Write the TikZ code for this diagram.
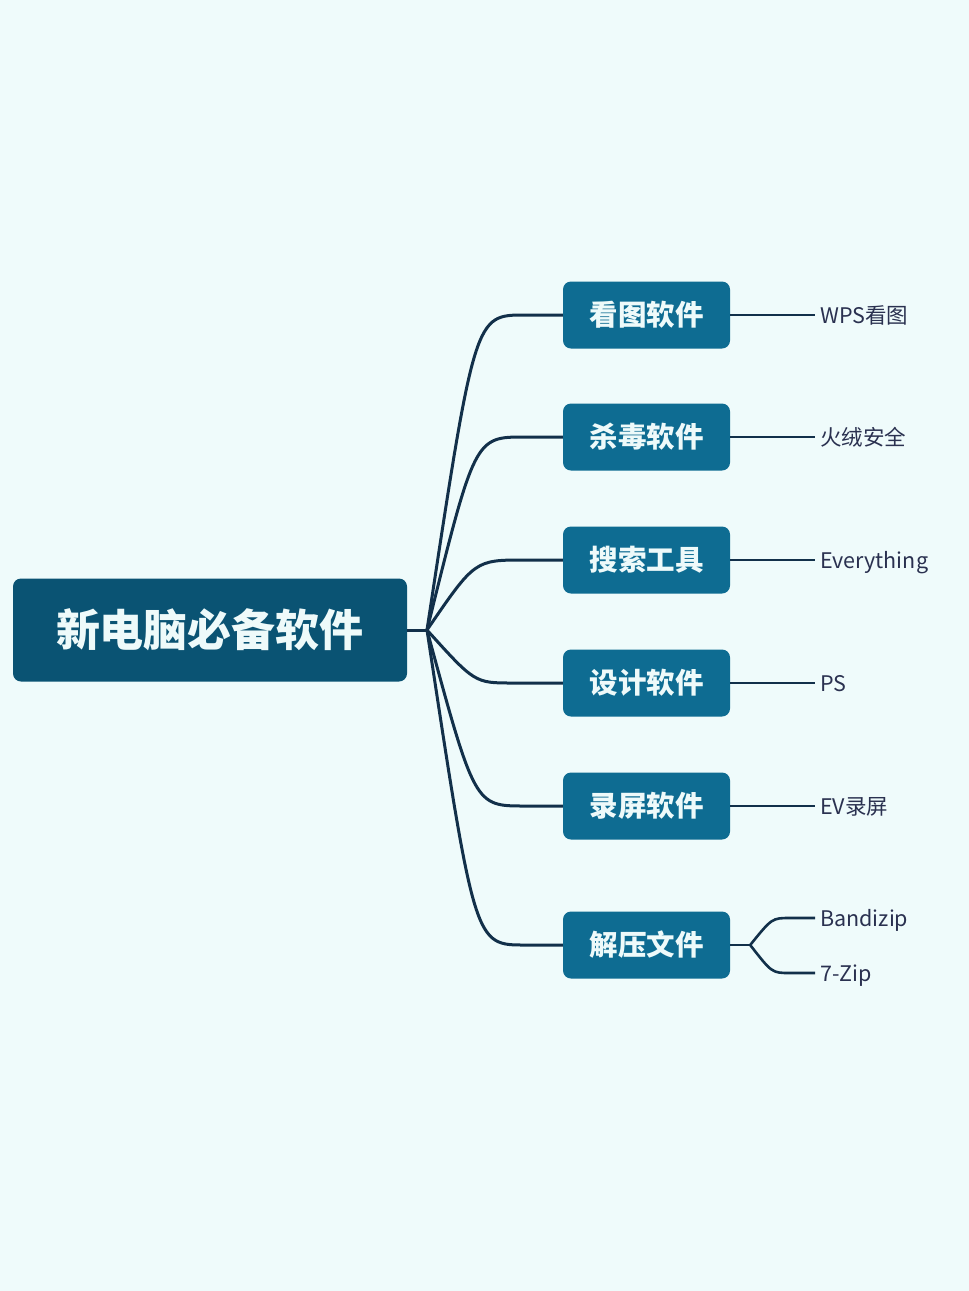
\documentclass[tikz,border=0pt]{standalone}
\usepackage{fontspec}
\setmainfont{Noto Sans CJK SC}
\definecolor{bgcyan}{HTML}{EFFBFB}
\definecolor{rootblue}{HTML}{0A5373}
\definecolor{catblue}{HTML}{0E6C92}
\definecolor{boxtext}{HTML}{EEFAFA}
\definecolor{linenavy}{HTML}{12304A}
\definecolor{leafnavy}{HTML}{2A3150}
\begin{document}
\begin{tikzpicture}[x=1pt, y=-1pt,
    rootbox/.style={rounded corners=8pt, fill=rootblue, text=boxtext, minimum width=394pt, minimum height=103pt, font=\fontsize{44}{46}\selectfont\bfseries},
    catbox/.style={rounded corners=8pt, fill=catblue, text=boxtext, minimum width=167pt, minimum height=67pt, font=\fontsize{28.5}{30}\selectfont\bfseries},
    leaf/.style={anchor=west, inner xsep=5pt, inner ysep=2pt, text=leafnavy, text height=21pt, text depth=4pt, font=\fontsize{21.5}{23}\selectfont},
    branch/.style={draw=linenavy, line width=3pt},
    twig/.style={draw=linenavy, line width=2.6pt}]
    \fill[bgcyan] (0,0) rectangle (969,1291);
    \useasboundingbox (0,0) rectangle (969,1291);

    \node[rootbox] (root) at (210, 630) {新电脑必备软件};
    \coordinate (hub) at (427, 630);

    \node[catbox] (c1) at (646.5, 315) {看图软件};
    \node[catbox] (c2) at (646.5, 437) {杀毒软件};
    \node[catbox] (c3) at (646.5, 560) {搜索工具};
    \node[catbox] (c4) at (646.5, 683) {设计软件};
    \node[catbox] (c5) at (646.5, 806) {录屏软件};
    \node[catbox] (c6) at (646.5, 945) {解压文件};

    \node[leaf] (l1) at (815, 315) {WPS看图};
    \node[leaf] (l2) at (815, 437) {火绒安全};
    \node[leaf] (l3) at (815, 560) {Everything};
    \node[leaf] (l4) at (815, 683) {PS};
    \node[leaf] (l5) at (815, 806) {EV录屏};
    \node[leaf] (l6a) at (815, 918) {Bandizip};
    \node[leaf] (l6b) at (815, 973) {7-Zip};
    \coordinate (fork) at ([xshift=20pt]c6.east);

    % root to categories
    \draw[branch] (root.east) -- (hub);
    \draw[branch] (hub) .. controls ([xshift=-88pt]c1.west) .. ([xshift=-38pt]c1.west) -- (c1.west);
    \draw[branch] (hub) .. controls ([xshift=-88pt]c2.west) .. ([xshift=-38pt]c2.west) -- (c2.west);
    \draw[branch] (hub) .. controls ([xshift=-88pt]c3.west) .. ([xshift=-38pt]c3.west) -- (c3.west);
    \draw[branch] (hub) .. controls ([xshift=-88pt]c4.west) .. ([xshift=-50pt]c4.west) -- (c4.west);
    \draw[branch] (hub) .. controls ([xshift=-88pt]c5.west) .. ([xshift=-38pt]c5.west) -- (c5.west);
    \draw[branch] (hub) .. controls ([xshift=-88pt]c6.west) .. ([xshift=-38pt]c6.west) -- (c6.west);

    % categories to leaves
    \draw[twig] (c1.east) -- (l1.west);
    \draw[twig] (c2.east) -- (l2.west);
    \draw[twig] (c3.east) -- (l3.west);
    \draw[twig] (c4.east) -- (l4.west);
    \draw[twig] (c5.east) -- (l5.west);
    \draw[twig] (c6.east) -- (fork);
    \draw[twig] (fork) .. controls ([xshift=-43pt]l6a.west) .. ([xshift=-25pt]l6a.west) -- (l6a.west);
    \draw[twig] (fork) .. controls ([xshift=-43pt]l6b.west) .. ([xshift=-25pt]l6b.west) -- (l6b.west);
  \end{tikzpicture}
\end{document}
